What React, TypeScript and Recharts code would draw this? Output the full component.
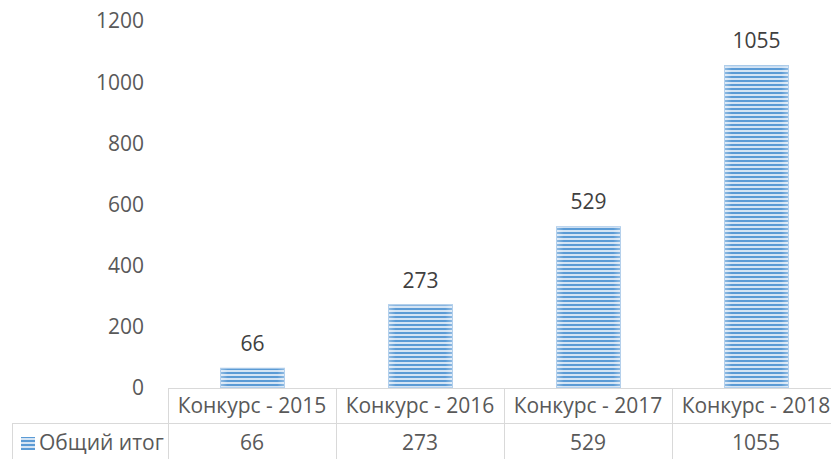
import React from "react";
import { BarChart, Bar, XAxis, YAxis, LabelList } from "recharts";

const categories = ["Конкурс - 2015", "Конкурс - 2016", "Конкурс - 2017", "Конкурс - 2018"];
const totals = [66, 273, 529, 1055];
const yTicks = [0, 200, 400, 600, 800, 1000, 1200];
const seriesName = "Общий итог";

const data = categories.map((name, i) => ({ name, value: totals[i] }));

const FONT = "'Open Sans', 'Noto Sans', sans-serif";
const FS = 21;
const GRID = "#d9d9d9";
const TXT = "#595959";
const LEGEND_CELL = 156;

const TableTick = (props: any) => {
  const { x, y, payload, index } = props;
  const off = payload && payload.offset ? payload.offset : 84;
  const left = x - off;
  const right = x + off;
  const i = index ?? payload.index ?? 0;
  return (
    <g>
      <line x1={left} x2={right} y1={y + 0.5} y2={y + 0.5} stroke={GRID} strokeWidth={1} />
      <line x1={left} x2={right} y1={y + 35.5} y2={y + 35.5} stroke={GRID} strokeWidth={1} />
      <line x1={left + 0.5} x2={left + 0.5} y1={y} y2={y + 80} stroke={GRID} strokeWidth={1} />
      <line x1={right + 0.5} x2={right + 0.5} y1={y} y2={y + 80} stroke={GRID} strokeWidth={1} />
      <text x={x} y={y + 25} textAnchor="middle" fill={TXT} fontSize={FS} fontFamily={FONT}>
        {payload.value}
      </text>
      <text x={x} y={y + 62} textAnchor="middle" fill={TXT} fontSize={FS} fontFamily={FONT}>
        {totals[i]}
      </text>
      {i === 0 && (
        <g>
          <line x1={left - LEGEND_CELL} x2={left} y1={y + 35.5} y2={y + 35.5} stroke={GRID} strokeWidth={1} />
          <line x1={left - LEGEND_CELL + 0.5} x2={left - LEGEND_CELL + 0.5} y1={y + 35} y2={y + 80} stroke={GRID} strokeWidth={1} />
          <rect x={left - LEGEND_CELL + 9} y={y + 49} width={14} height={13} fill="url(#stripes)" />
          <text x={left - LEGEND_CELL + 27} y={y + 62} textAnchor="start" fill={TXT} fontSize={FS} fontFamily={FONT}>
            {seriesName}
          </text>
        </g>
      )}
    </g>
  );
};

const StripedBar = (props: any) => {
  const { x, y, width, height } = props;
  if (!height || height <= 0) return null;
  return (
    <g>
      <rect x={x} y={y} width={width} height={height} fill="url(#stripes)" />
      <rect x={x} y={y} width={width} height={height} fill="url(#edgeGlow)" />
      <rect x={x + 0.5} y={y + 0.5} width={width - 1} height={height - 1} fill="none" stroke="#b4d0ec" strokeWidth={1} />
    </g>
  );
};

export default function App() {
  return (
    <div style={{ position: "absolute", left: 0, top: 0, width: 831, height: 459, overflow: "hidden", background: "#fff" }}>
      <BarChart width={850} height={459} data={data} margin={{ top: 21, right: 10, bottom: 0, left: 0 }}>
        <defs>
          <pattern id="stripes" patternUnits="userSpaceOnUse" width={8} height={4}>
            <rect x={0} y={0} width={8} height={4} fill="#d4e4f4" />
            <rect x={0} y={0} width={8} height={2} fill="#5b9bd5" />
          </pattern>
          <linearGradient id="edgeGlow" x1="0" y1="0" x2="1" y2="0">
            <stop offset="0%" stopColor="#ffffff" stopOpacity={0.35} />
            <stop offset="12%" stopColor="#ffffff" stopOpacity={0} />
            <stop offset="88%" stopColor="#ffffff" stopOpacity={0} />
            <stop offset="100%" stopColor="#ffffff" stopOpacity={0.35} />
          </linearGradient>
        </defs>
        <XAxis
          dataKey="name"
          axisLine={false}
          tickLine={false}
          tickSize={0}
          tickMargin={0}
          height={71}
          interval={0}
          tick={<TableTick />}
        />
        <YAxis
          type="number"
          domain={[0, 1200]}
          ticks={yTicks}
          axisLine={false}
          tickLine={false}
          tickSize={0}
          tickMargin={24}
          width={168}
          tick={{ fill: TXT, fontSize: FS, fontFamily: FONT }}
        />
        <Bar dataKey="value" barSize={65} isAnimationActive={false} shape={<StripedBar />}>
          <LabelList dataKey="value" position="top" offset={17} fill="#404040" fontSize={FS} fontFamily={FONT} />
        </Bar>
      </BarChart>
    </div>
  );
}
